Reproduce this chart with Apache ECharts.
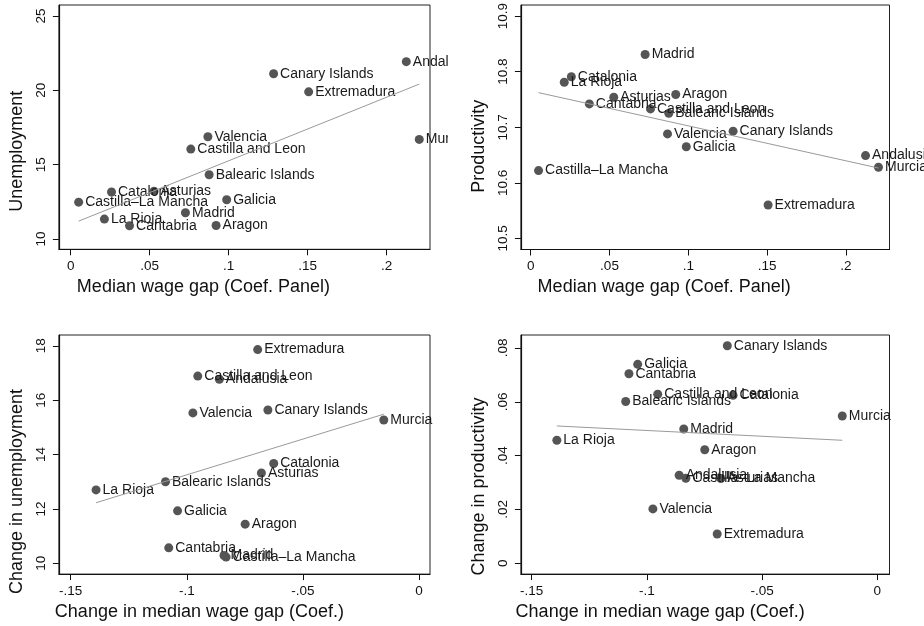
<!DOCTYPE html>
<html><head><meta charset="utf-8">
<script src="https://cdn.jsdelivr.net/npm/echarts@6/dist/echarts.min.js"></script>
<style>
html,body{margin:0;padding:0;background:#fff;width:924px;height:626px;overflow:hidden;}
.p{position:absolute;}
</style></head><body>
<div id="p1" class="p" style="left:0;top:0;width:448px;height:313px"></div>
<div id="p2" class="p" style="left:462px;top:0;width:462px;height:313px"></div>
<div id="p3" class="p" style="left:0;top:313px;width:462px;height:313px"></div>
<div id="p4" class="p" style="left:462px;top:313px;width:462px;height:313px"></div>
<script>
// ---- data ----
const regions = ['Andalusia','Aragon','Asturias','Balearic Islands','Canary Islands','Cantabria',
  'Castilla and Leon','Castilla\u2013La Mancha','Catalonia','Valencia','Extremadura','Galicia',
  'Madrid','Murcia','La Rioja'];
const wageGapPanel = [0.2124,0.0920,0.0527,0.0876,0.1284,0.0372,0.0760,0.0050,0.0258,0.0868,0.1506,0.0987,0.0726,0.2206,0.0213];
const unemployment = [21.93,10.91,13.22,14.32,21.12,10.89,16.05,12.48,13.16,16.88,19.90,12.64,11.77,16.70,11.34];
const productivity = [10.649,10.759,10.754,10.725,10.693,10.742,10.733,10.622,10.791,10.688,10.560,10.665,10.831,10.628,10.781];
const changeWageGap = [-0.0860,-0.0749,-0.0679,-0.1092,-0.0651,-0.1078,-0.0953,-0.0831,-0.0626,-0.0974,-0.0695,-0.1040,-0.0840,-0.0152,-0.1391];
const changeUnemployment = [16.77,11.44,13.32,13.00,15.64,10.57,16.885,10.23,13.67,15.53,17.86,11.93,10.29,15.27,12.70];
const changeProductivity = [0.0327,0.0422,0.0315,0.0601,0.0808,0.0704,0.0628,0.0316,0.0624,0.0202,0.0109,0.0739,0.0499,0.0547,0.0457];

const xTicksLevel = [0,0.05,0.1,0.15,0.2];
const xTickLabelsLevel = ['0','.05','.1','.15','.2'];
const xTicksChange = [-0.15,-0.1,-0.05,0];
const xTickLabelsChange = ['-.15','-.1','-.05','0'];
const yTicksUnemp = [10,15,20,25];
const yTickLabelsUnemp = ['10','15','20','25'];
const yTicksProd = [10.5,10.6,10.7,10.8,10.9];
const yTickLabelsProd = ['10.5','10.6','10.7','10.8','10.9'];
const yTicksChangeUnemp = [10,12,14,16,18];
const yTickLabelsChangeUnemp = ['10','12','14','16','18'];
const yTicksChangeProd = [0,0.02,0.04,0.06,0.08];
const yTickLabelsChangeProd = ['0','.02','.04','.06','.08'];

// ---- helpers ----
const FONT = "'Liberation Sans', Arial, sans-serif";
function ols(xs, ys){
  const n = xs.length;
  const mx = xs.reduce((a,b)=>a+b,0)/n, my = ys.reduce((a,b)=>a+b,0)/n;
  let sxy=0, sxx=0;
  for(let i=0;i<n;i++){ sxy+=(xs[i]-mx)*(ys[i]-my); sxx+=(xs[i]-mx)*(xs[i]-mx); }
  const b = sxy/sxx, a = my-b*mx;
  const x0 = Math.min(...xs), x1 = Math.max(...xs);
  return [[x0,a+b*x0],[x1,a+b*x1]];
}
function labeler(ticks, labels){
  return function(v){
    for(let i=0;i<ticks.length;i++){ if(Math.abs(ticks[i]-v)<1e-9) return labels[i]; }
    return '';
  };
}
function axisBase(ticks, labels, min, max){
  return {
    type:'value', min:min, max:max,
    axisLine:{show:true, onZero:false, lineStyle:{color:'#111', width:1.2}},
    axisTick:{show:true, length:6, customValues:ticks, lineStyle:{color:'#111', width:1}},
    axisLabel:{customValues:ticks, formatter:labeler(ticks,labels), color:'#111', fontSize:13.5, fontFamily:FONT, margin:10},
    splitLine:{show:false},
    nameLocation:'middle',
    nameTextStyle:{color:'#111', fontSize:18, fontFamily:FONT}
  };
}
function makePanel(id, c){
  const chart = echarts.init(document.getElementById(id), null, {renderer:'canvas'});
  const pts = c.x.map((v,i)=>[v, c.y[i]]);
  const xAxis = axisBase(c.xt, c.xl, c.xmin, c.xmax);
  xAxis.name = c.xname; xAxis.nameGap = 26;
  xAxis.nameTextStyle = Object.assign({}, xAxis.nameTextStyle, {padding:[0, c.xshift*2, 0, 0]});
  const yAxis = axisBase(c.yt, c.yl, c.ymin, c.ymax);
  yAxis.name = c.yname; yAxis.nameGap = c.ygap;
  yAxis.axisLabel.rotate = 90; yAxis.axisLabel.margin = 11;
  yAxis.nameTextStyle = Object.assign({}, yAxis.nameTextStyle, {padding:[0, c.yshift*2, 0, 0]});
  chart.setOption({
    animation:false,
    backgroundColor:'#fff',
    grid:{left:c.g[0], top:c.g[1], width:c.g[2], height:c.g[3], show:true, borderColor:'#222', borderWidth:1, backgroundColor:'#fff'},
    xAxis:xAxis, yAxis:yAxis,
    series:[
      {type:'scatter', data:pts, symbol:'circle', symbolSize:9, silent:true,
       itemStyle:{color:'#555555', opacity:1},
       label:{show:true, position:'right', distance:2, formatter:p=>regions[p.dataIndex],
              color:'#1a1a1a', fontSize:14, fontFamily:FONT}},
      {type:'line', data:ols(c.x,c.y), symbol:'none', silent:true, z:3,
       lineStyle:{color:'#9a9a9a', width:1}}
    ]
  });
}
makePanel('p1', {x:wageGapPanel, y:unemployment, xt:xTicksLevel, xl:xTickLabelsLevel, yt:yTicksUnemp, yl:yTickLabelsUnemp,
  xmin:-0.0075, xmax:0.2274, ymin:9.31, ymax:25.74, g:[56,5,374,244.3],
  xname:'Median wage gap (Coef. Panel)', yname:'Unemployment', xshift:41, yshift:24, ygap:28});
makePanel('p2', {x:wageGapPanel, y:productivity, xt:xTicksLevel, xl:xTickLabelsLevel, yt:yTicksProd, yl:yTickLabelsProd,
  xmin:-0.0062, xmax:0.2276, ymin:10.480, ymax:10.920, g:[53,5,374.5,244.5],
  xname:'Median wage gap (Coef. Panel)', yname:'Productivity', xshift:41, yshift:19, ygap:28});
makePanel('p3', {x:changeWageGap, y:changeUnemployment, xt:xTicksChange, xl:xTickLabelsChange, yt:yTicksChangeUnemp, yl:yTickLabelsChangeUnemp,
  xmin:-0.1551, xmax:0.0047, ymin:9.604, ymax:18.396, g:[56,22,374,244.3],
  xname:'Change in median wage gap (Coef.)', yname:'Change in unemployment', xshift:45, yshift:37, ygap:28});
makePanel('p4', {x:changeWageGap, y:changeProductivity, xt:xTicksChange, xl:xTickLabelsChange, yt:yTicksChangeProd, yl:yTickLabelsChangeProd,
  xmin:-0.1547, xmax:0.0053, ymin:-0.004, ymax:0.0848, g:[53,22,374.5,244.3],
  xname:'Change in median wage gap (Coef.)', yname:'Change in productivity', xshift:45, yshift:32, ygap:29});
</script>
</body></html>
